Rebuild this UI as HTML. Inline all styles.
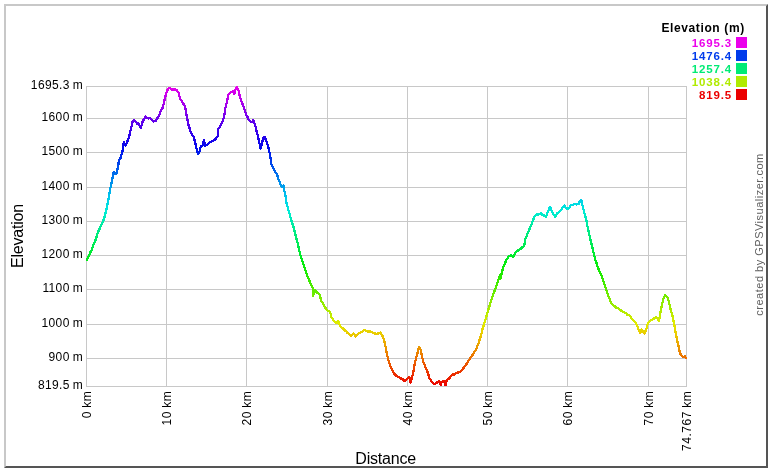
<!DOCTYPE html>
<html><head><meta charset="utf-8"><title>Elevation profile</title>
<style>
html,body{margin:0;padding:0;background:#fff;}
body{width:772px;height:472px;overflow:hidden;font-family:"Liberation Sans",sans-serif;}
svg{display:block;will-change:transform;}
text{font-family:"Liberation Sans",sans-serif;}
.t{font-size:12px;fill:#000;letter-spacing:0.35px;word-spacing:-0.7px;}
.a{font-size:16px;fill:#000;letter-spacing:-0.22px;}
.l{font-size:11.5px;font-weight:bold;letter-spacing:0.85px;}
</style></head><body>
<svg width="772" height="472" viewBox="0 0 772 472">
<rect x="0" y="0" width="772" height="472" fill="#ffffff"/>
<rect x="4" y="4" width="764" height="464" fill="#ffffff"/>
<polygon points="4,4 768,4 766,6 6,6 6,466 4,468" fill="#c8c8c8"/>
<polygon points="768,468 768,4 766,6 766,466 6,466 4,468" fill="#555555"/>
<defs><linearGradient id="g" gradientUnits="userSpaceOnUse" x1="0" y1="386" x2="0" y2="86">

<stop offset="0.0000" stop-color="#eb0000"/>
<stop offset="0.0417" stop-color="#eb3100"/>
<stop offset="0.0833" stop-color="#eb6200"/>
<stop offset="0.1250" stop-color="#eb9300"/>
<stop offset="0.1667" stop-color="#ebc400"/>
<stop offset="0.2083" stop-color="#e1eb00"/>
<stop offset="0.2500" stop-color="#b0eb00"/>
<stop offset="0.2917" stop-color="#7feb00"/>
<stop offset="0.3333" stop-color="#4eeb00"/>
<stop offset="0.3750" stop-color="#1deb00"/>
<stop offset="0.4167" stop-color="#00eb14"/>
<stop offset="0.4583" stop-color="#00eb44"/>
<stop offset="0.5000" stop-color="#00eb75"/>
<stop offset="0.5417" stop-color="#00eba6"/>
<stop offset="0.5833" stop-color="#00ebd7"/>
<stop offset="0.6250" stop-color="#00cdeb"/>
<stop offset="0.6667" stop-color="#009ceb"/>
<stop offset="0.7083" stop-color="#006ceb"/>
<stop offset="0.7500" stop-color="#003beb"/>
<stop offset="0.7917" stop-color="#000aeb"/>
<stop offset="0.8333" stop-color="#2700eb"/>
<stop offset="0.8750" stop-color="#5800eb"/>
<stop offset="0.9167" stop-color="#8900eb"/>
<stop offset="0.9583" stop-color="#ba00eb"/>
<stop offset="1.0000" stop-color="#eb00eb"/>
</linearGradient></defs>

<g fill="#c8c8c8" shape-rendering="crispEdges">
<rect x="86" y="86" width="601" height="1"/>
<rect x="86" y="118" width="601" height="1"/>
<rect x="86" y="152" width="601" height="1"/>
<rect x="86" y="187" width="601" height="1"/>
<rect x="86" y="221" width="601" height="1"/>
<rect x="86" y="255" width="601" height="1"/>
<rect x="86" y="289" width="601" height="1"/>
<rect x="86" y="324" width="601" height="1"/>
<rect x="86" y="358" width="601" height="1"/>
<rect x="86" y="386" width="601" height="1"/>
<rect x="86" y="86" width="1" height="301"/>
<rect x="166" y="86" width="1" height="301"/>
<rect x="246" y="86" width="1" height="301"/>
<rect x="327" y="86" width="1" height="301"/>
<rect x="407" y="86" width="1" height="301"/>
<rect x="487" y="86" width="1" height="301"/>
<rect x="567" y="86" width="1" height="301"/>
<rect x="648" y="86" width="1" height="301"/>
<rect x="686" y="86" width="1" height="301"/>
</g>

<text class="t" x="83.0" y="89.0" text-anchor="end">1695.3 m</text>
<text class="t" x="83.0" y="121.0" text-anchor="end">1600 m</text>
<text class="t" x="83.0" y="155.0" text-anchor="end">1500 m</text>
<text class="t" x="83.0" y="190.0" text-anchor="end">1400 m</text>
<text class="t" x="83.0" y="224.0" text-anchor="end">1300 m</text>
<text class="t" x="83.0" y="258.0" text-anchor="end">1200 m</text>
<text class="t" x="83.0" y="292.0" text-anchor="end">1100 m</text>
<text class="t" x="83.0" y="327.0" text-anchor="end">1000 m</text>
<text class="t" x="83.0" y="361.0" text-anchor="end">900 m</text>
<text class="t" x="83.0" y="389.0" text-anchor="end">819.5 m</text>
<text class="t" transform="translate(90.9,390.7) rotate(-90)" text-anchor="end" style="letter-spacing:0.55px">0 km</text>
<text class="t" transform="translate(170.9,390.7) rotate(-90)" text-anchor="end" style="letter-spacing:0.55px">10 km</text>
<text class="t" transform="translate(250.9,390.7) rotate(-90)" text-anchor="end" style="letter-spacing:0.55px">20 km</text>
<text class="t" transform="translate(331.9,390.7) rotate(-90)" text-anchor="end" style="letter-spacing:0.55px">30 km</text>
<text class="t" transform="translate(411.9,390.7) rotate(-90)" text-anchor="end" style="letter-spacing:0.55px">40 km</text>
<text class="t" transform="translate(491.9,390.7) rotate(-90)" text-anchor="end" style="letter-spacing:0.55px">50 km</text>
<text class="t" transform="translate(571.9,390.7) rotate(-90)" text-anchor="end" style="letter-spacing:0.55px">60 km</text>
<text class="t" transform="translate(652.9,390.7) rotate(-90)" text-anchor="end" style="letter-spacing:0.55px">70 km</text>
<text class="t" transform="translate(690.9,390.7) rotate(-90)" text-anchor="end" style="letter-spacing:0.55px">74.767 km</text>
<text class="a" x="385.6" y="464" text-anchor="middle">Distance</text>
<text class="a" transform="translate(22.5,236) rotate(-90)" text-anchor="middle">Elevation</text>
<text transform="translate(762.9,234.5) rotate(-90)" text-anchor="middle" font-size="11" fill="#606060" letter-spacing="0.5">created by GPSVisualizer.com</text>
<text x="703.1" y="31.5" text-anchor="middle" font-size="12" font-weight="bold" letter-spacing="0.62">Elevation (m)</text>
<rect x="736" y="37" width="11" height="11" fill="#eb00eb"/>
<text class="l" x="732" y="46.6" text-anchor="end" fill="#eb00eb">1695.3</text>
<rect x="736" y="50" width="11" height="11" fill="#003beb"/>
<text class="l" x="732" y="59.6" text-anchor="end" fill="#003beb">1476.4</text>
<rect x="736" y="63" width="11" height="11" fill="#00eb75"/>
<text class="l" x="732" y="72.6" text-anchor="end" fill="#00eb75">1257.4</text>
<rect x="736" y="76" width="11" height="11" fill="#b0eb00"/>
<text class="l" x="732" y="85.6" text-anchor="end" fill="#b0eb00">1038.4</text>
<rect x="736" y="89" width="11" height="11" fill="#eb0000"/>
<text class="l" x="732" y="98.6" text-anchor="end" fill="#eb0000">819.5</text>
<path d="M86.9,259.9 L88.0,257.2 L89.2,255.4 L90.3,252.4 L91.4,250.5 L92.4,248.0 L93.3,245.3 L94.2,243.4 L95.2,240.8 L96.2,238.2 L97.1,235.0 L98.0,232.2 L99.0,229.9 L100.0,228.0 L101.1,225.0 L102.2,222.9 L103.2,221.1 L104.5,217.2 L105.7,212.4 L107.0,206.6 L108.2,201.2 L109.2,194.8 L110.1,189.6 L110.9,185.5 L111.8,181.8 L112.8,176.7 L113.7,172.3 L115.0,173.7 L116.2,174.2 L117.2,170.6 L118.1,166.8 L119.0,159.9 L119.8,159.1 L120.6,157.9 L121.5,154.3 L122.5,151.3 L123.8,142.0 L124.8,143.7 L125.7,145.6 L126.7,143.3 L127.6,140.6 L128.6,138.0 L129.6,134.6 L130.5,130.6 L131.7,125.5 L132.8,121.0 L133.6,120.5 L134.3,120.2 L135.2,121.5 L136.2,122.3 L137.1,124.0 L138.1,123.4 L139.0,123.8 L139.8,126.3 L140.6,128.1 L141.8,124.6 L142.9,120.8 L143.8,119.7 L144.8,118.4 L145.7,116.6 L146.7,117.6 L147.6,117.7 L148.6,118.6 L150.0,118.1 L151.0,119.2 L151.9,120.0 L152.9,121.1 L153.8,121.5 L154.8,121.0 L155.7,121.1 L156.7,118.9 L157.6,118.0 L158.6,116.3 L159.6,114.3 L160.5,111.5 L161.4,109.8 L162.4,108.6 L163.4,105.0 L164.3,100.8 L165.2,97.1 L166.2,93.2 L167.1,90.8 L168.1,88.9 L169.0,87.7 L170.0,88.1 L171.0,89.4 L171.9,89.4 L172.9,89.9 L173.8,89.3 L174.8,89.4 L175.7,89.6 L176.7,89.7 L177.6,91.3 L178.6,92.5 L179.3,95.5 L180.1,99.0 L181.2,100.3 L182.4,102.1 L183.4,103.9 L184.3,104.7 L185.1,107.3 L185.8,110.4 L187.1,118.0 L187.9,121.9 L188.7,125.7 L189.6,128.3 L190.4,131.2 L191.2,132.8 L191.9,134.2 L192.9,135.8 L193.8,137.3 L194.6,140.2 L195.3,142.9 L196.7,149.5 L198.0,154.4 L198.8,152.4 L199.5,151.6 L200.2,148.9 L201.0,145.8 L202.0,145.6 L203.0,144.8 L203.9,140.0 L204.9,145.5 L206.0,145.4 L207.1,144.6 L208.1,143.6 L209.0,142.9 L210.0,142.4 L211.0,141.8 L211.9,141.0 L212.9,140.8 L213.8,140.1 L214.8,139.5 L215.7,139.3 L216.6,137.3 L217.6,136.3 L218.2,129.5 L219.1,127.7 L220.0,126.6 L220.9,124.6 L221.9,122.8 L222.9,120.1 L223.8,118.2 L224.6,113.9 L225.3,108.6 L226.2,104.8 L227.2,100.8 L228.6,94.1 L229.6,93.2 L230.5,92.3 L231.8,92.3 L233.0,91.3 L234.3,94.1 L235.2,89.7 L236.1,88.4 L237.1,87.1 L237.9,89.3 L238.7,91.2 L240.0,97.1 L240.9,100.0 L241.9,102.0 L242.9,105.0 L243.8,107.5 L244.8,110.3 L245.7,113.2 L246.6,115.5 L247.6,117.1 L248.6,119.4 L249.5,120.9 L250.4,121.1 L251.4,122.0 L252.4,121.3 L253.3,119.7 L254.2,122.5 L255.2,124.9 L256.6,131.5 L257.4,133.9 L258.1,137.1 L259.4,142.8 L260.6,148.4 L261.9,143.6 L262.6,140.7 L263.4,138.0 L264.8,136.9 L265.6,139.4 L266.3,141.0 L267.1,143.8 L268.0,145.9 L268.8,149.6 L269.5,152.3 L270.2,154.9 L271.2,164.4 L272.1,165.8 L273.1,167.4 L274.0,169.3 L275.0,171.3 L275.9,172.8 L276.9,174.0 L277.9,177.5 L278.8,180.8 L279.8,182.1 L280.7,184.7 L281.7,186.6 L282.6,186.3 L283.6,185.6 L284.0,190.2 L284.8,192.7 L285.5,196.1 L286.4,202.5 L287.4,206.3 L288.3,209.5 L289.2,212.5 L290.2,216.0 L291.1,219.8 L292.1,222.7 L293.1,225.6 L294.0,229.2 L294.8,231.8 L295.5,235.2 L296.8,240.1 L298.0,244.4 L299.1,249.6 L300.2,254.2 L301.4,258.0 L302.5,261.6 L303.8,265.6 L305.0,269.2 L306.0,271.3 L306.9,274.9 L307.9,277.0 L308.8,279.2 L309.8,281.8 L310.7,283.6 L311.9,286.4 L313.2,288.4 L313.2,295.9 L314.5,290.1 L315.4,290.9 L316.4,292.0 L317.4,292.8 L318.3,293.1 L319.3,294.0 L320.2,296.9 L321.2,300.9 L322.1,302.1 L323.1,303.9 L324.0,305.5 L325.0,307.5 L325.9,308.5 L326.9,310.4 L327.9,310.7 L329.0,311.2 L330.0,311.7 L330.8,314.0 L331.5,317.4 L332.6,319.0 L333.8,321.0 L334.8,322.2 L335.7,322.1 L336.7,323.1 L338.0,320.7 L338.8,322.9 L339.5,324.9 L340.5,326.1 L341.4,327.2 L342.4,328.3 L343.3,328.6 L344.3,329.9 L345.2,330.6 L346.2,331.3 L347.1,332.7 L348.1,333.2 L349.2,334.0 L350.2,335.0 L351.3,335.7 L352.6,334.5 L353.8,333.6 L354.6,335.0 L355.3,336.4 L356.5,335.4 L357.6,334.0 L358.6,333.6 L359.5,333.0 L360.5,332.8 L361.6,332.0 L362.8,331.3 L363.9,330.3 L365.0,330.2 L366.0,331.0 L367.1,331.5 L368.1,331.8 L369.0,331.2 L370.0,331.5 L370.9,332.0 L371.9,332.0 L372.9,332.5 L373.8,333.0 L374.8,333.5 L375.7,333.7 L376.7,333.9 L377.6,333.5 L378.6,333.5 L379.5,333.1 L380.5,332.5 L381.4,334.5 L382.4,335.7 L383.4,338.0 L384.3,341.4 L385.1,344.4 L385.8,347.9 L387.1,354.7 L387.9,358.2 L388.7,361.1 L389.6,364.0 L390.6,366.9 L391.8,369.1 L392.9,371.6 L393.8,372.8 L394.8,374.5 L395.7,375.3 L396.8,376.3 L397.9,377.0 L398.8,376.9 L399.8,377.7 L400.7,378.3 L401.7,378.9 L402.6,379.1 L403.6,380.4 L404.5,380.5 L405.5,380.7 L406.4,380.0 L407.4,378.9 L408.3,377.6 L409.3,377.1 L410.6,382.6 L411.4,379.6 L412.1,377.4 L413.1,373.1 L414.0,368.0 L415.1,362.4 L416.3,357.3 L417.2,354.1 L418.2,349.8 L419.4,347.0 L420.7,349.6 L422.0,356.2 L422.8,360.0 L423.6,363.1 L424.6,364.5 L425.5,367.1 L426.4,369.4 L427.4,371.8 L428.4,374.5 L429.3,378.4 L430.2,379.3 L431.2,381.3 L432.1,382.1 L433.1,382.9 L434.0,384.0 L435.0,384.0 L435.9,382.9 L436.9,382.6 L438.0,382.0 L439.2,381.1 L439.9,382.7 L440.7,384.9 L441.4,382.8 L442.2,381.5 L443.1,381.2 L444.1,381.1 L445.5,385.1 L446.8,380.1 L448.1,379.3 L449.3,378.2 L450.2,377.2 L451.2,375.9 L452.1,375.4 L453.1,374.3 L454.0,374.5 L455.0,373.6 L456.0,372.9 L456.9,372.9 L457.9,372.8 L458.8,371.7 L459.8,372.1 L460.7,371.3 L461.7,370.2 L462.6,369.4 L463.6,367.9 L464.5,366.6 L465.5,365.5 L466.4,364.2 L467.4,362.3 L468.3,361.2 L469.3,359.4 L470.4,358.1 L471.5,356.4 L472.5,355.0 L473.6,353.6 L474.5,351.8 L475.5,350.1 L476.4,349.1 L477.5,345.9 L478.7,343.2 L479.6,339.5 L480.6,336.8 L481.6,333.3 L482.5,329.1 L483.8,325.0 L485.0,321.3 L486.2,316.9 L487.5,312.9 L488.6,308.7 L489.8,305.2 L490.9,301.1 L492.0,297.8 L493.2,294.8 L494.5,291.0 L495.8,287.4 L497.0,284.5 L497.9,281.2 L498.9,278.5 L499.9,275.5 L500.8,278.6 L501.8,271.9 L502.8,269.1 L503.7,266.1 L504.9,263.4 L506.2,260.3 L507.4,258.3 L508.7,256.5 L509.9,256.1 L511.0,255.5 L512.1,255.8 L513.2,256.9 L514.5,254.2 L515.7,251.9 L516.7,251.3 L517.6,250.9 L518.6,250.1 L519.5,249.6 L520.5,249.2 L521.4,248.1 L522.4,246.9 L523.3,246.7 L524.3,245.1 L525.2,239.6 L526.2,237.3 L527.1,234.6 L528.0,232.8 L529.0,230.2 L530.0,227.7 L531.0,225.3 L532.0,223.2 L532.9,220.4 L533.8,218.4 L534.8,216.3 L535.8,215.4 L536.7,213.9 L537.9,214.5 L539.1,214.4 L540.0,214.2 L541.0,213.3 L542.1,214.7 L543.3,215.6 L544.3,215.5 L545.2,216.0 L546.2,216.6 L547.2,213.4 L548.1,211.1 L549.0,209.0 L550.0,206.9 L551.0,209.0 L551.9,211.1 L552.8,212.9 L553.8,214.6 L555.1,216.8 L555.9,215.5 L556.7,213.8 L557.6,213.0 L558.6,212.3 L559.5,211.1 L560.8,210.3 L562.0,208.6 L563.1,206.7 L564.3,205.5 L565.2,207.1 L566.2,208.0 L567.2,208.7 L568.3,209.0 L569.3,207.5 L570.2,206.1 L571.2,205.0 L572.1,204.9 L573.1,204.6 L574.0,204.0 L575.0,204.4 L575.9,203.9 L576.9,204.5 L577.8,204.0 L578.8,204.1 L580.1,200.5 L581.3,200.2 L582.6,205.8 L583.5,209.3 L584.5,213.5 L585.5,217.1 L586.4,220.3 L587.8,228.0 L588.5,231.0 L589.3,234.5 L590.2,238.8 L591.2,243.1 L592.2,246.5 L593.1,250.9 L594.0,254.2 L595.0,258.5 L595.8,261.2 L596.5,262.9 L597.6,266.7 L598.6,269.3 L599.5,271.6 L600.5,273.3 L601.4,275.6 L602.4,278.1 L603.3,281.2 L604.3,283.5 L605.2,286.8 L606.2,289.4 L607.5,293.3 L608.7,297.3 L609.9,299.6 L611.0,303.0 L611.9,303.8 L612.9,305.2 L613.8,305.8 L614.8,306.0 L615.7,307.4 L616.7,307.6 L617.6,307.8 L618.6,308.6 L619.5,309.9 L620.5,310.3 L621.4,310.7 L622.4,311.3 L623.3,311.8 L624.3,312.3 L625.2,313.1 L626.2,313.2 L627.1,314.7 L628.1,315.3 L629.2,315.3 L630.4,316.4 L631.3,318.0 L632.3,319.6 L633.5,320.4 L634.8,321.8 L635.8,323.2 L636.7,325.0 L637.7,327.2 L638.6,329.4 L639.4,331.3 L640.1,333.2 L641.4,329.3 L642.2,330.3 L643.0,332.1 L643.9,332.4 L644.7,333.5 L645.5,331.1 L646.2,329.4 L647.0,326.7 L647.7,323.7 L648.9,322.1 L650.0,320.8 L651.0,320.4 L651.9,319.7 L652.9,318.8 L653.8,318.6 L654.8,318.1 L655.7,317.1 L656.7,317.8 L657.6,317.9 L659.0,321.1 L660.1,314.3 L661.4,307.7 L662.3,303.5 L663.3,298.9 L664.2,296.6 L665.2,295.4 L666.5,296.2 L667.7,298.1 L668.7,301.3 L669.6,304.7 L670.5,308.9 L671.5,312.6 L672.5,315.9 L673.4,320.1 L674.8,327.5 L675.5,332.0 L676.3,336.2 L677.6,342.8 L678.4,345.8 L679.1,349.4 L680.0,352.8 L681.0,355.2 L682.0,355.8 L683.0,357.3 L684.0,357.2 L684.9,356.2 L685.8,358.1" fill="none" stroke="url(#g)" stroke-width="2.3" stroke-linejoin="round" stroke-linecap="round" shape-rendering="crispEdges"/>
</svg></body></html>
